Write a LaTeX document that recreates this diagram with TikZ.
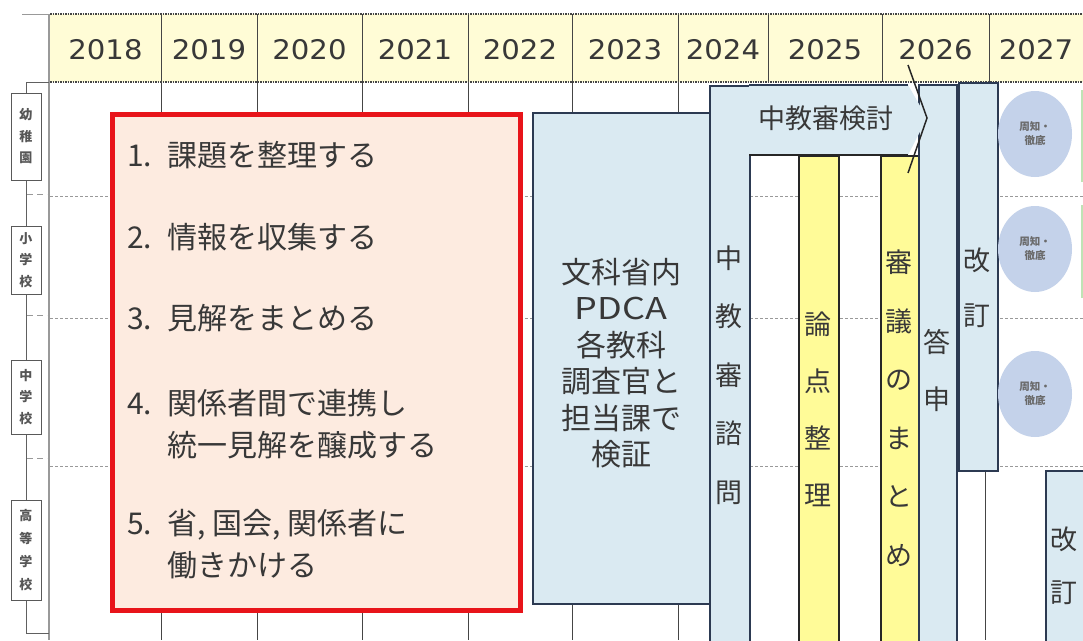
\documentclass[tikz,border=0pt]{standalone}
\usepackage{fontspec}
\setmainfont{Noto Sans CJK JP}
\newfontfamily\numfont{DejaVu Sans}
\usetikzlibrary{shapes.geometric}
\definecolor{hdr}{HTML}{FFFCD6}
\definecolor{gridc}{HTML}{454545}
\definecolor{redb}{HTML}{E8141A}
\definecolor{peach}{HTML}{FDEBE0}
\definecolor{lblue}{HTML}{DAEAF2}
\definecolor{bluebd}{HTML}{2C3A52}
\definecolor{ylw}{HTML}{FFFB98}
\definecolor{circ}{HTML}{C4D2EA}
\definecolor{txt}{HTML}{383838}
\definecolor{lgreen}{HTML}{BFE3B5}
\begin{document}
\begin{tikzpicture}[x=1pt,y=-1pt,
  gridln/.style={draw=gridc, line width=1pt},
  rowdash/.style={draw=gray!80, line width=1pt, dash pattern=on 3pt off 2pt},
  hdrdot/.style={draw=gridc, line width=1.2pt, dash pattern=on 1.5pt off 1pt},
  conn/.style={draw=gray!75!black, line width=1pt},
  yearlbl/.style={font=\numfont\fontsize{27}{27}\selectfont, text=txt, inner sep=0},
  rowbox/.style={draw=gray!70!black, fill=white, line width=1pt, minimum width=30pt, inner sep=0, align=center, font=\fontsize{13}{21.5}\selectfont\bfseries, text=txt!85},
  redbox/.style={draw=redb, line width=4.5pt, fill=peach, inner sep=0, anchor=north west},
  itemtxt/.style={font=\fontsize{30}{30}\selectfont, text=txt, inner sep=0, anchor=west},
  bluebox/.style={draw=bluebd, line width=1.5pt, fill=lblue, inner sep=0, anchor=north west},
  ylwbar/.style={draw=black!85, line width=1.5pt, fill=ylw, inner sep=0, anchor=north west},
  vtext/.style={align=center, text=txt, inner sep=0},
  circnode/.style={ellipse, fill=circ, minimum width=74pt, minimum height=86pt, inner sep=0, align=center, font=\fontsize{10.5}{14}\selectfont\bfseries, text=txt!75},
]
\useasboundingbox (0,0) rectangle (1083,640);
\fill[white] (0,0) rectangle (1083,640);

% header
\fill[hdr] (50,14) rectangle (1083,82);
\draw[hdrdot] (50,14) -- (1083,14);
\draw[hdrdot] (50,82) -- (1083,82);
\foreach \x in {161,257,362,468,572,678,768,882,989}
  \draw[gridln] (\x,14) -- (\x,82);
\node[yearlbl] (y2018) at (105.5,50) {\scalebox{1.08}[1]{2018}};
\node[yearlbl] (y2019) at (209,50) {\scalebox{1.08}[1]{2019}};
\node[yearlbl] (y2020) at (309.5,50) {\scalebox{1.08}[1]{2020}};
\node[yearlbl] (y2021) at (415,50) {\scalebox{1.08}[1]{2021}};
\node[yearlbl] (y2022) at (520,50) {\scalebox{1.08}[1]{2022}};
\node[yearlbl] (y2023) at (625,50) {\scalebox{1.08}[1]{2023}};
\node[yearlbl] (y2024) at (723,50) {\scalebox{1.08}[1]{2024}};
\node[yearlbl] (y2025) at (825,50) {\scalebox{1.08}[1]{2025}};
\node[yearlbl] (y2026) at (935.5,50) {\scalebox{1.08}[1]{2026}};
\node[yearlbl] (y2027) at (1036,50) {\scalebox{1.08}[1]{2027}};

% grid
\foreach \x in {161,257,362,468,572,678}
  \draw[gridln] (\x,82) -- (\x,640);
\foreach \y in {196,318,466}
  \draw[rowdash] (50,\y) -- (1083,\y);
\draw[gridln] (985,470) -- (985,640);

% left frame and row labels
\draw[draw=gray!80, line width=1.8pt] (49,14) -- (49,640);
\draw[draw=gray!80, line width=1pt] (22,14) -- (49,14);
\coordinate (ftop) at (49,82);
\coordinate (fbot) at (49,633);
\node[rowbox, minimum height=87pt] (r1) at (26,136.5) {幼\\稚\\園};
\node[rowbox, minimum height=68pt] (r2) at (26,260) {小\\学\\校};
\node[rowbox, minimum height=74pt] (r3) at (26,397) {中\\学\\校};
\node[rowbox, minimum height=100pt, font=\fontsize{13}{23}\selectfont\bfseries] (r4) at (26,550) {高\\等\\学\\校};
\draw[conn] (r1.north) |- (ftop);
\draw[conn] (r1.south) -- (r2.north);
\draw[conn] (r2.south) -- (r3.north);
\draw[conn] (r3.south) -- (r4.north);
\draw[conn] (r4.south) |- (fbot);
\foreach \y in {194,315,458}
  \draw[draw=gray!80, line width=1pt, dash pattern=on 6pt off 4pt] (27,\y) -- (47,\y);

% red box
\node[redbox, minimum width=408pt, minimum height=496pt] (task) at (110,112) {};
\node[itemtxt] (i1) at (127,155) {\makebox[40pt][l]{1.}課題を整理する};
\node[itemtxt] (i2) at (127,237) {\makebox[40pt][l]{2.}情報を収集する};
\node[itemtxt] (i3) at (127,318) {\makebox[40pt][l]{3.}見解をまとめる};
\node[itemtxt] (i4) at (127,403) {\makebox[40pt][l]{4.}関係者間で連携し};
\node[itemtxt] (i4b) at (167,445) {統一見解を醸成する};
\node[itemtxt] (i5) at (127,525) {\makebox[40pt][l]{5.}省, 国会, 関係者に};
\node[itemtxt] (i5b) at (167,565) {働きかける};

% PDCA box
\node[bluebox, minimum width=177pt, minimum height=491pt] (pdca) at (532,112) {};
\node[vtext, font=\fontsize{30}{36.5}\selectfont] (pdcat) at (621,363)
  {文科省内\\\scalebox{1.2}[1]{PDCA}\\各教科\\調査官と\\担当課で\\検証};

% vertical bars
\node[bluebox, minimum width=40pt, minimum height=570pt] (b1) at (709,85) {};
\node[ylwbar, minimum width=40pt, minimum height=500pt] (yb1) at (798,155) {};
\node[ylwbar, minimum width=38pt, minimum height=500pt] (yb2) at (880,155) {};
\node[bluebox, minimum width=38pt, minimum height=570pt] (b2) at (918,84) {};
\node[bluebox, minimum width=39pt, minimum height=388pt] (b3) at (958,82) {};
\node[bluebox, minimum width=42pt, minimum height=180pt] (b4) at (1045,470) {};

% arrow
\fill[lblue] (749,85) -- (908,85) -- (927,118) -- (908,155) -- (749,155) -- cycle;
\draw[draw=bluebd, line width=1.5pt] (749,85) -- (908,85);
\draw[draw=black!85, line width=1.5pt] (749,155) -- (908,155);
\draw[draw=black!85, line width=1.5pt] (908,65) -- (927,118) -- (908,173);
\node[vtext, font=\fontsize{27}{27}\selectfont] (kento) at (826,118) {中教審検討};

% bar texts
\node[vtext, font=\fontsize{27}{58.5}\selectfont] (t1) at (729,375) {中\\教\\審\\諮\\問};
\node[vtext, font=\fontsize{27}{57}\selectfont] (t2) at (818,409) {論\\点\\整\\理};
\node[vtext, font=\fontsize{27}{58.5}\selectfont] (t3) at (899,408) {審\\議\\の\\ま\\と\\め};
\node[vtext, font=\fontsize{27}{57}\selectfont] (t4) at (937,371) {答\\申};
\node[vtext, font=\fontsize{27}{55}\selectfont] (t5) at (977,288) {改\\訂};
\node[vtext, font=\fontsize{27}{53}\selectfont] (t6) at (1064,566) {改\\訂};

% circles
\node[circnode] (c1) at (1035,134) {周知・\\徹底};
\node[circnode] (c2) at (1035,249) {周知・\\徹底};
\node[circnode] (c3) at (1035,394) {周知・\\徹底};
\draw[draw=lgreen, line width=2.5pt] (1082,90) -- (1082,182);
\draw[draw=lgreen, line width=2.5pt] (1082,205) -- (1082,298);
\end{tikzpicture}
\end{document}
